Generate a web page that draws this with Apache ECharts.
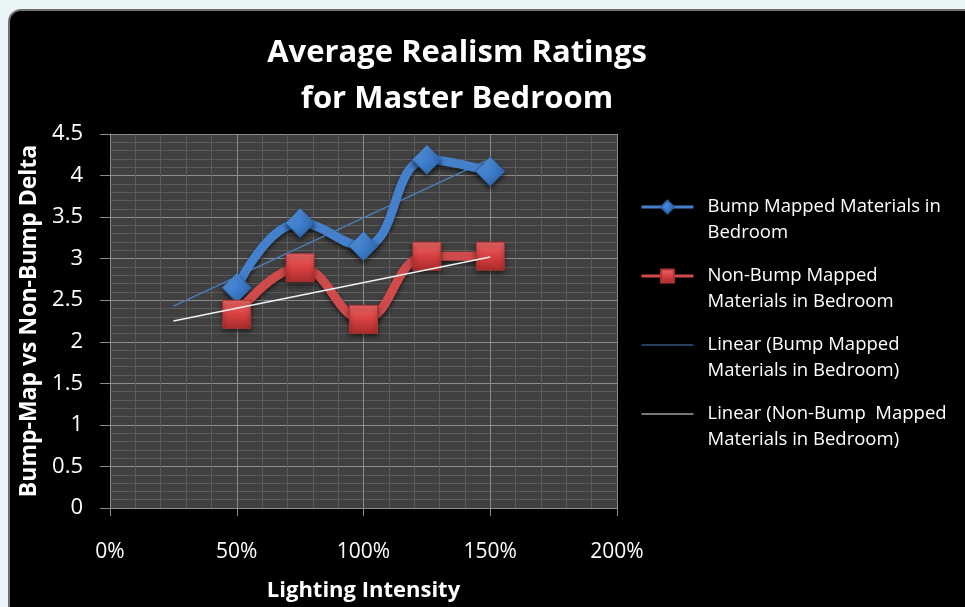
<!DOCTYPE html>
<html>
<head>
<meta charset="utf-8">
<script src="https://cdn.jsdelivr.net/npm/echarts@6/dist/echarts.min.js"></script>
<style>
html,body{margin:0;padding:0;background:#e9f4f6;}
#main{width:965px;height:607px;}
</style>
</head>
<body>
<div id="main"></div>
<script>
// lighting intensity (fraction of 100%)
var lightLevels = [0.5, 0.75, 1, 1.25, 1.5];
var bumpRatings = [2.65, 3.43, 3.15, 4.19, 4.05];
var nonBumpRatings = [2.33, 2.89, 2.27, 3.03, 3.03];
// trendline ends
var trendX = [0.25, 1.5];
var bumpTrend = [2.43, 4.2];
var nonBumpTrend = [2.25, 3.02];

var seriesNames = [
	'Bump Mapped Materials in\nBedroom',
	'Non-Bump Mapped\nMaterials in Bedroom',
	'Linear (Bump Mapped\nMaterials in Bedroom)',
	'Linear (Non-Bump  Mapped\nMaterials in Bedroom)'
];

var pairs = function(xs, ys){
	var out = [];
	for(var i = 0;i < xs.length;i++){
		out.push([xs[i], ys[i]]);
	}
	return out;
};

var FONT = '"Open Sans", "Noto Sans", sans-serif';

var drawChart = function(dom){
	var myChart = echarts.init(dom);
	var option = {
		backgroundColor: '#e9f4f6',
		animation: false,
		textStyle: { fontFamily: FONT },
		graphic: [{
			type: 'rect',
			z: -10,
			shape: { x: 9, y: 10, width: 990, height: 640, r: 12 },
			style: { fill: '#000', stroke: '#707070', lineWidth: 2 }
		}],
		title: {
			text: 'Average Realism Ratings\nfor Master Bedroom',
			left: 452,
			textAlign: 'center',
			top: 25,
			textStyle: {
				color: '#fff',
				fontSize: 31,
				fontWeight: 'bold',
				lineHeight: 46,
				fontFamily: FONT
			}
		},
		legend: {
			orient: 'vertical',
			left: 640,
			top: 168,
			padding: 0,
			itemGap: -9,
			itemWidth: 52,
			itemHeight: 16,
			// leading blank line keeps the icon level with the first text line
			formatter: function(name){ return '\n' + name; },
			textStyle: {
				color: '#fff',
				fontSize: 18.5,
				lineHeight: 26,
				padding: [0, 0, 0, 9],
				fontFamily: FONT
			},
			data: [
				{ name: seriesNames[0], lineStyle: { width: 3 } },
				{ name: seriesNames[1], lineStyle: { width: 3 } },
				{ name: seriesNames[2], lineStyle: { width: 1 }, itemStyle: { opacity: 0 } },
				{ name: seriesNames[3], lineStyle: { width: 1 }, itemStyle: { opacity: 0 } }
			]
		},
		grid: {
			left: 110,
			right: 348,
			top: 134,
			bottom: 98,
			show: true,
			backgroundColor: '#404040',
			borderWidth: 0
		},
		xAxis: {
			type: 'value',
			min: 0,
			max: 2,
			interval: 0.5,
			name: 'Lighting Intensity',
			nameLocation: 'middle',
			nameGap: 72,
			nameTextStyle: { color: '#fff', fontSize: 22, fontWeight: 'bold', fontFamily: FONT },
			axisLine: { lineStyle: { color: '#8c8c8c', width: 1 } },
			axisTick: { show: true, length: 8, lineStyle: { color: '#8c8c8c' } },
			axisLabel: {
				color: '#fff',
				fontSize: 21,
				margin: 34,
				fontFamily: FONT,
				formatter: function(v){ return Math.round(v*100) + '%'; }
			},
			splitLine: { show: true, lineStyle: { color: '#8c8c8c', width: 1 } },
			minorTick: { show: false, splitNumber: 5 },
			minorSplitLine: { show: true, lineStyle: { color: '#5c5c5c', width: 1 } }
		},
		yAxis: {
			type: 'value',
			min: 0,
			max: 4.5,
			interval: 0.5,
			name: 'Bump-Map vs Non-Bump Delta',
			nameLocation: 'middle',
			nameGap: 64,
			nameTextStyle: { color: '#fff', fontSize: 23, fontWeight: 'bold', fontFamily: FONT },
			axisLine: { show: true, lineStyle: { color: '#8c8c8c', width: 1 } },
			axisTick: { show: true, length: 10, lineStyle: { color: '#8c8c8c' } },
			axisLabel: { color: '#fff', fontSize: 22, margin: 27, fontFamily: FONT },
			splitLine: { show: true, lineStyle: { color: '#8c8c8c', width: 1 } },
			minorTick: { show: false, splitNumber: 5 },
			minorSplitLine: { show: true, lineStyle: { color: '#5c5c5c', width: 1 } }
		},
		series: [
			{
				name: seriesNames[0],
				type: 'line',
				smooth: 0.45,
				data: pairs(lightLevels, bumpRatings),
				symbol: 'diamond',
				symbolSize: [29, 29],
				z: 3,
				lineStyle: {
					color: '#4580cc',
					width: 9,
					shadowColor: 'rgba(0,0,0,0.6)',
					shadowBlur: 4,
					shadowOffsetY: 3
				},
				itemStyle: {
					color: new echarts.graphic.LinearGradient(0, 0, 1, 1, [
						{ offset: 0, color: '#6aa6ea' },
						{ offset: 0.5, color: '#3f7fcf' },
						{ offset: 1, color: '#2a5f9e' }
					]),
					borderColor: '#2d66ad',
					borderWidth: 1,
					shadowColor: 'rgba(0,0,0,0.6)',
					shadowBlur: 5,
					shadowOffsetY: 3
				}
			},
			{
				name: seriesNames[1],
				type: 'line',
				smooth: 0.45,
				data: pairs(lightLevels, nonBumpRatings),
				symbol: 'rect',
				symbolSize: [28, 28],
				z: 4,
				lineStyle: {
					color: '#cf4a4a',
					width: 9,
					shadowColor: 'rgba(0,0,0,0.6)',
					shadowBlur: 4,
					shadowOffsetY: 3
				},
				itemStyle: {
					color: new echarts.graphic.LinearGradient(0, 0, 0, 1, [
						{ offset: 0, color: '#f06a6a' },
						{ offset: 0.5, color: '#d84040' },
						{ offset: 1, color: '#a82c2c' }
					]),
					borderColor: '#b03434',
					borderWidth: 1,
					shadowColor: 'rgba(0,0,0,0.6)',
					shadowBlur: 5,
					shadowOffsetY: 3
				}
			},
			{
				name: seriesNames[2],
				type: 'line',
				data: pairs(trendX, bumpTrend),
				symbol: 'none',
				z: 5,
				lineStyle: { color: '#4a7ebb', width: 1.3 },
				itemStyle: { color: '#4a7ebb' }
			},
			{
				name: seriesNames[3],
				type: 'line',
				data: pairs(trendX, nonBumpTrend),
				symbol: 'none',
				z: 5,
				lineStyle: { color: '#f2f2f2', width: 1.3 },
				itemStyle: { color: '#f2f2f2' }
			}
		]
	};
	myChart.setOption(option);
	window.addEventListener('resize', function(){
		myChart.resize();
	});
};

drawChart(document.getElementById('main'));
</script>
</body>
</html>
